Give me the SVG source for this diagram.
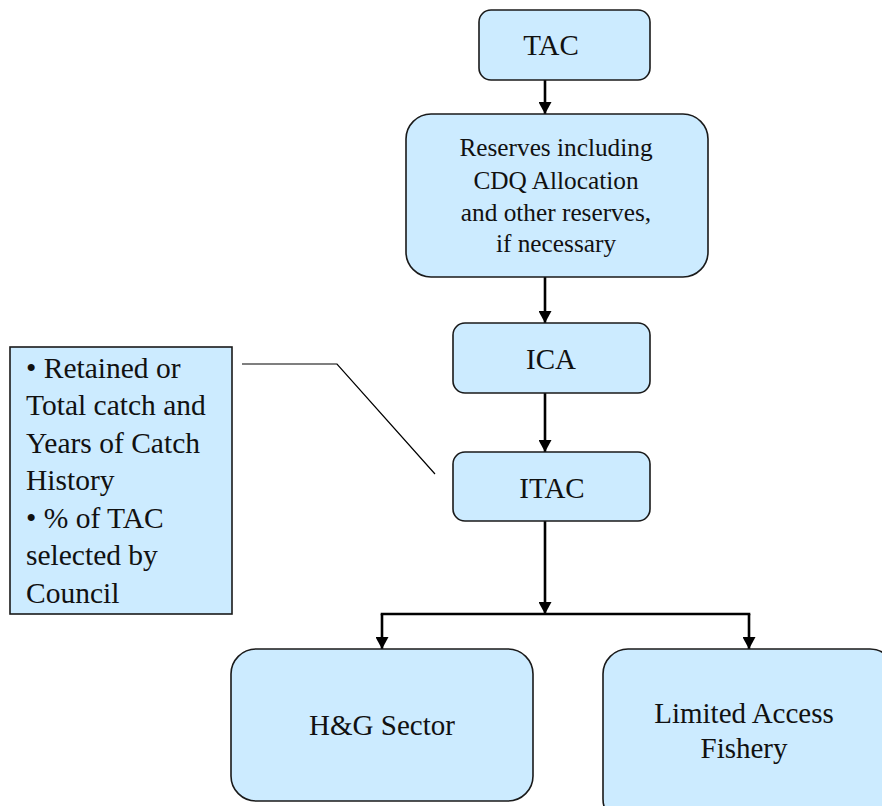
<svg xmlns="http://www.w3.org/2000/svg" width="882" height="806" viewBox="0 0 882 806">
<style>
.box{fill:#CCEBFF;stroke:#1a1a1a;stroke-width:1.6}
text{font-family:'Liberation Serif','DejaVu Serif',serif;fill:#111}
.t{text-anchor:middle}
.big{font-size:29px}
.med{font-size:25.3px}
.note{font-size:29.5px}
.arr{stroke:#000;stroke-width:2.6;fill:none}
.lead{stroke:#000;stroke-width:1.2;fill:none}
</style>
<defs>
<marker id="ah" markerWidth="12" markerHeight="13" refX="12" refY="6.5" orient="auto" markerUnits="userSpaceOnUse">
<path d="M0,0 L12,6.5 L0,13 Z" fill="#000"/>
</marker>
</defs>
<rect width="882" height="806" fill="#fff"/>
<g id="connectors">
<line class="arr" x1="545" y1="80" x2="545" y2="114" marker-end="url(#ah)"/>
<line class="arr" x1="545" y1="277" x2="545" y2="323" marker-end="url(#ah)"/>
<line class="arr" x1="545" y1="393" x2="545" y2="452" marker-end="url(#ah)"/>
<line class="arr" x1="545" y1="521" x2="545" y2="614" marker-end="url(#ah)"/>
<line class="arr" x1="380.7" y1="614" x2="750.3" y2="614"/>
<line class="arr" x1="382" y1="614" x2="382" y2="649" marker-end="url(#ah)"/>
<line class="arr" x1="749" y1="614" x2="749" y2="649" marker-end="url(#ah)"/>
<polyline class="lead" points="242,364 337,364 435,474"/>
</g>
<g id="tac">
<rect class="box" x="479" y="10" width="171" height="70" rx="12"/>
<text class="t big" x="551" y="55">TAC</text>
</g>
<g id="reserves">
<rect class="box" x="406" y="114" width="302" height="163" rx="25"/>
<text class="t med" x="556" y="156">Reserves including</text>
<text class="t med" x="556" y="189">CDQ Allocation</text>
<text class="t med" x="556" y="221">and other reserves,</text>
<text class="t med" x="556" y="252">if necessary</text>
</g>
<g id="ica">
<rect class="box" x="453" y="323" width="197" height="70" rx="12"/>
<text class="t big" x="551" y="369">ICA</text>
</g>
<g id="itac">
<rect class="box" x="453" y="452" width="197" height="69" rx="12"/>
<text class="t big" x="552" y="498">ITAC</text>
</g>
<g id="note">
<rect class="box" x="10" y="347" width="222" height="267"/>
<text class="note" x="26" y="378">• Retained or</text>
<text class="note" x="26" y="415">Total catch and</text>
<text class="note" x="26" y="453">Years of Catch</text>
<text class="note" x="26" y="490">History</text>
<text class="note" x="26" y="528">• % of TAC</text>
<text class="note" x="26" y="565">selected by</text>
<text class="note" x="26" y="603">Council</text>
</g>
<g id="hg">
<rect class="box" x="231" y="649" width="302" height="152" rx="25"/>
<text class="t big" x="382" y="735">H&amp;G Sector</text>
</g>
<g id="laf">
<rect class="box" x="603" y="649" width="292" height="175" rx="25"/>
<text class="t big" x="744" y="723">Limited Access</text>
<text class="t big" x="744" y="758">Fishery</text>
</g>
</svg>
